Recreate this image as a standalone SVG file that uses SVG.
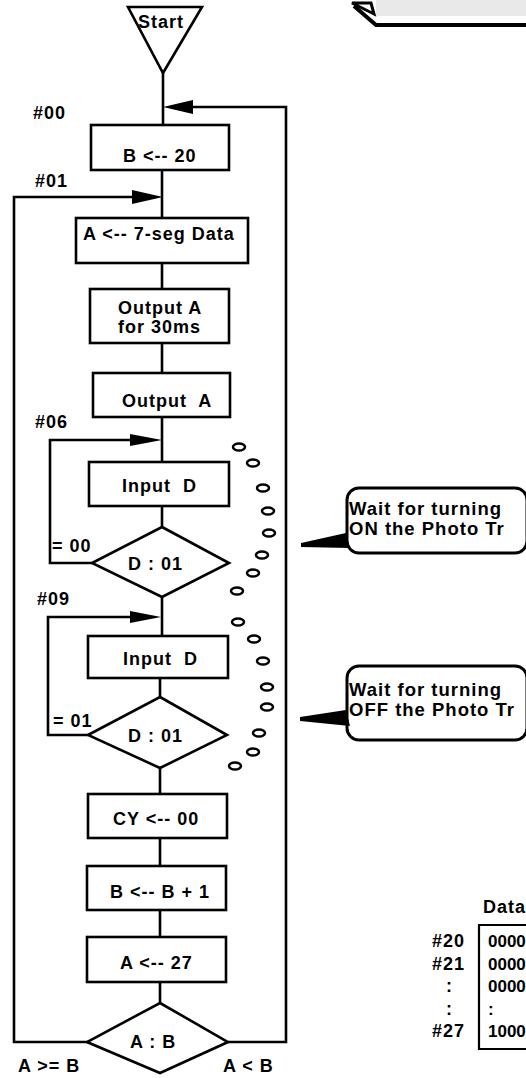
<svg xmlns="http://www.w3.org/2000/svg" width="526" height="1078" viewBox="0 0 526 1078">
<style>
.t{font-family:"Liberation Sans",Arial,sans-serif;font-weight:bold;font-size:18px;letter-spacing:1px;fill:#000}
.b{font-family:"Liberation Sans",Arial,sans-serif;font-weight:bold;font-size:18.5px;letter-spacing:1px;fill:#000}
.d{font-family:"Liberation Sans",Arial,sans-serif;font-weight:bold;font-size:17px;fill:#000}
.n{fill:#fff;stroke:#000;stroke-width:2.6}
.c{fill:none;stroke:#000;stroke-width:2.6}
.ah{fill:#000;stroke:none}
.o{fill:none;stroke:#000;stroke-width:2.5}
</style>
<rect width="526" height="1078" fill="#fff"/>

<g id="decoration">
<rect x="376" y="0" width="150" height="16" fill="#e9e9e9"/>
<path d="M352,3 L371,3 L374,14 Z" fill="#fff" stroke="#000" stroke-width="3"/>
<path d="M354,6 L376,25 L526,25" fill="none" stroke="#000" stroke-width="4"/>
</g>

<g id="connectors">
<path class="c" d="M163,73 V125"/>
<path class="c" d="M228,1042 H286 V107 H190"/>
<polygon class="ah" points="163,107 193,100 193,114"/>
<path class="c" d="M162,170 V218"/>
<path class="c" d="M88,1042 H14 V197 H134"/>
<polygon class="ah" points="163,197 132,190 132,204"/>
<path class="c" d="M162,263 V289"/>
<path class="c" d="M162,343 V373"/>
<path class="c" d="M162,417 V462"/>
<path class="c" d="M92,563 H50 V440 H132"/>
<polygon class="ah" points="162,440 130,434 130,446"/>
<path class="c" d="M162,506 V527"/>
<path class="c" d="M162,597 V636"/>
<path class="c" d="M88,735 H48 V617 H132"/>
<polygon class="ah" points="161,617 130,611 130,623"/>
<path class="c" d="M160,678 V697"/>
<path class="c" d="M160,768 V794"/>
<path class="c" d="M160,838 V866"/>
<path class="c" d="M160,910 V937"/>
<path class="c" d="M160,982 V1003"/>
</g>

<g id="start">
<polygon class="n" points="128,7 202,7 163,73"/>
<text class="t" x="161" y="28" text-anchor="middle">Start</text>
</g>

<g id="lbl00"><text class="t" x="33" y="119">#00</text></g>
<g id="lbl01"><text class="t" x="35" y="187">#01</text></g>
<g id="lbl06"><text class="t" x="35" y="428">#06</text></g>
<g id="lbl09"><text class="t" x="37" y="605">#09</text></g>

<g id="b20">
<rect class="n" x="91" y="125" width="138" height="45"/>
<text class="t" x="123" y="162">B &lt;-- 20</text>
</g>

<g id="a7seg">
<rect class="n" x="76" y="218" width="172" height="45"/>
<text class="t" x="83" y="240">A &lt;-- 7-seg Data</text>
</g>

<g id="out30">
<rect class="n" x="90" y="289" width="139" height="54"/>
<text class="t" x="118" y="314">Output A</text>
<text class="t" x="118" y="333">for 30ms</text>
</g>

<g id="outA">
<rect class="n" x="93" y="373" width="137" height="44"/>
<text class="t" x="122" y="407" xml:space="preserve">Output  A</text>
</g>

<g id="inD1">
<rect class="n" x="89" y="462" width="140" height="44"/>
<text class="t" x="122" y="492" xml:space="preserve">Input  D</text>
</g>

<g id="dec1">
<polygon class="n" points="162,527 229,563 162,597 92,563"/>
<text class="t" x="128" y="570">D : 01</text>
<text class="t" x="52" y="552">= 00</text>
</g>

<g id="inD2">
<rect class="n" x="88" y="636" width="140" height="42"/>
<text class="t" x="123" y="665" xml:space="preserve">Input  D</text>
</g>

<g id="dec2">
<polygon class="n" points="160,697 227,735 160,768 88,735"/>
<text class="t" x="128" y="742">D : 01</text>
<text class="t" x="53" y="727">= 01</text>
</g>

<g id="cy">
<rect class="n" x="88" y="794" width="139" height="44"/>
<text class="t" x="113" y="825">CY &lt;-- 00</text>
</g>

<g id="binc">
<rect class="n" x="87" y="866" width="139" height="44"/>
<text class="t" x="110" y="898">B &lt;-- B + 1</text>
</g>

<g id="a27">
<rect class="n" x="87" y="937" width="139" height="45"/>
<text class="t" x="120" y="969">A &lt;-- 27</text>
</g>

<g id="dec3">
<polygon class="n" points="160,1003 228,1042 160,1073 87,1042"/>
<text class="t" x="130" y="1048">A : B</text>
<text class="t" x="18" y="1072">A &gt;= B</text>
<text class="t" x="223" y="1072">A &lt; B</text>
</g>

<g id="dots1">
<ellipse class="o" cx="239" cy="447" rx="6" ry="3.5"/>
<ellipse class="o" cx="253" cy="463" rx="6" ry="3.5"/>
<ellipse class="o" cx="263" cy="488" rx="6" ry="3.5"/>
<ellipse class="o" cx="268" cy="511" rx="6" ry="3.5"/>
<ellipse class="o" cx="269" cy="533" rx="6" ry="3.5"/>
<ellipse class="o" cx="262" cy="555" rx="6" ry="3.5"/>
<ellipse class="o" cx="253" cy="573" rx="6" ry="3.5"/>
<ellipse class="o" cx="237" cy="591" rx="6" ry="3.5"/>
</g>

<g id="dots2">
<ellipse class="o" cx="238" cy="622" rx="6" ry="3.5"/>
<ellipse class="o" cx="254" cy="639" rx="6" ry="3.5"/>
<ellipse class="o" cx="263" cy="661" rx="6" ry="3.5"/>
<ellipse class="o" cx="267" cy="687" rx="6" ry="3.5"/>
<ellipse class="o" cx="267" cy="707" rx="6" ry="3.5"/>
<ellipse class="o" cx="259" cy="733" rx="6" ry="3.5"/>
<ellipse class="o" cx="253" cy="752" rx="6" ry="3.5"/>
<ellipse class="o" cx="235" cy="766" rx="6" ry="3.5"/>
</g>

<g id="bubble1">
<rect x="347" y="488" width="180" height="65" rx="12" fill="#fff" stroke="#000" stroke-width="3"/>
<polygon points="301,543 346,533 350,548 301,547" fill="#000"/>
<text class="b" x="349" y="515">Wait for turning</text>
<text class="b" x="349" y="535">ON the Photo Tr</text>
</g>

<g id="bubble2">
<rect x="347" y="666" width="180" height="74" rx="12" fill="#fff" stroke="#000" stroke-width="3"/>
<polygon points="300,717 346,710 350,726 300,721" fill="#000"/>
<text class="b" x="349" y="696">Wait for turning</text>
<text class="b" x="349" y="716">OFF the Photo Tr</text>
</g>

<g id="table">
<text class="t" x="483" y="913">Data</text>
<path d="M530,925 H479 V1049 H530" fill="none" stroke="#000" stroke-width="2.2"/>
<text class="t" x="432" y="947">#20</text>
<text class="t" x="432" y="970">#21</text>
<text class="t" x="446" y="992">:</text>
<text class="t" x="446" y="1015">:</text>
<text class="t" x="432" y="1037">#27</text>
<text class="d" x="488" y="947">0000</text>
<text class="d" x="488" y="970">0000</text>
<text class="d" x="488" y="992">0000</text>
<text class="d" x="488" y="1015">:</text>
<text class="d" x="488" y="1037">1000</text>
</g>
</svg>
